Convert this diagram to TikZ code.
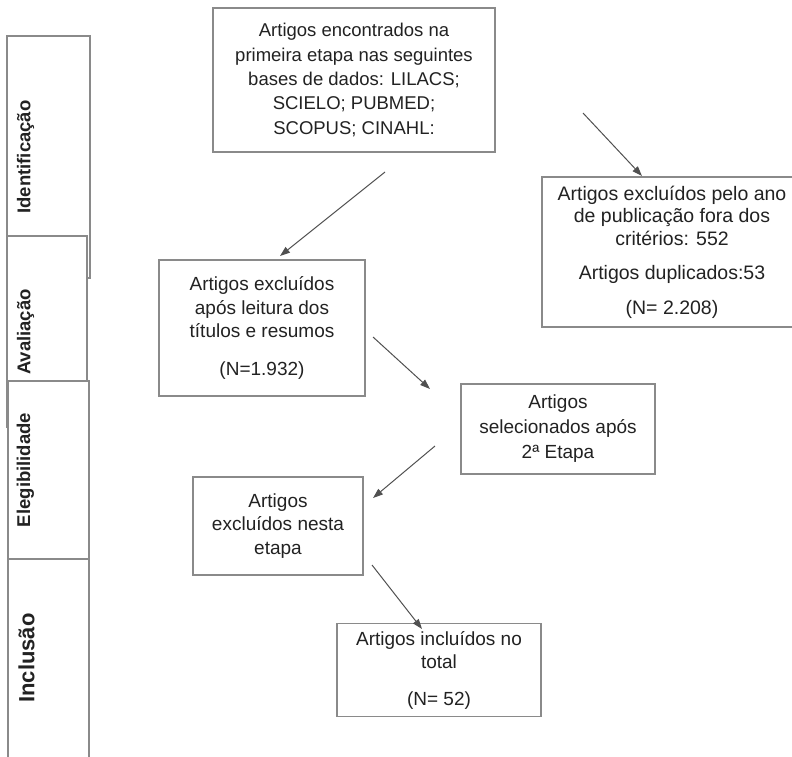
\documentclass[tikz,border=0pt]{standalone}
\usepackage{fontspec}
\setmainfont{Liberation Sans}
\usetikzlibrary{arrows.meta}
\definecolor{linegray}{HTML}{8A8A8A}
\definecolor{arrgray}{HTML}{505050}
\definecolor{txt}{HTML}{222222}
\begin{document}
\begin{tikzpicture}[x=1pt,y=-1pt,
  boxnode/.style={draw=linegray, line width=1.2pt, fill=white, text=txt, align=center, inner sep=0pt, font=\fontsize{19}{23.5}\selectfont},
  stagebox/.style={draw=linegray, line width=1.2pt, fill=white},
  stagelabel/.style={rotate=90, text=txt, font=\bfseries\fontsize{18.5}{22}\selectfont, inner sep=0pt},
  arr/.style={draw=arrgray, line width=1pt, -{Triangle[length=10pt,width=7pt]}}]
\useasboundingbox (0,0) rectangle (792,756);
\clip (0,0) rectangle (792,756);

% stage column
\path[stagebox] (7,36) rectangle (90,278);
\node[stagelabel] (lid) at (25.5,157) {Identificação};
\path[stagebox] (7,236) rectangle (87,427);
\node[stagelabel] (lav) at (25.5,332) {Avaliação};
\path[stagebox] (8,381) rectangle (89,559);
\node[stagelabel] (lel) at (25.5,470) {Elegibilidade};
\path[stagebox] (8,559) rectangle (89,770);
\node[stagelabel, font=\bfseries\fontsize{22}{26}\selectfont] (lin) at (26.5,658) {Inclusão};

% boxes
\node[boxnode, minimum width=282pt, minimum height=144pt, font=\fontsize{18.5}{24.3}\selectfont] (b1) at (354,80)
  {Artigos encontrados na\\primeira etapa nas seguintes\\bases de dados: LILACS;\\SCIELO; PUBMED;\\SCOPUS; CINAHL:};
\node[boxnode, minimum width=260pt, minimum height=150pt, font=\fontsize{19.5}{22.5}\selectfont] (b2) at (672,252)
  {Artigos excluídos pelo ano\\de publicação fora dos\\critérios: 552\\[12pt]Artigos duplicados:53\\[12pt](N= 2.208)};
\node[boxnode, minimum width=206pt, minimum height=136pt] (b3) at (262,328)
  {Artigos excluídos\\após leitura dos\\títulos e resumos\\[14pt](N=1.932)};
\node[boxnode, minimum width=194pt, minimum height=90pt, font=\fontsize{19}{25}\selectfont] (b4) at (558,429)
  {Artigos\\selecionados após\\2ª Etapa};
\node[boxnode, minimum width=170pt, minimum height=98pt] (b5) at (278,526)
  {Artigos\\excluídos nesta\\etapa};
\node[boxnode, minimum width=204pt, minimum height=93pt] (b6) at (439,670)
  {Artigos incluídos no\\total\\[13pt](N= 52)};

% connector end points
\coordinate (a0s) at (583,113);
\coordinate (a0e) at (642,176);
\coordinate (a1s) at (385,172);
\coordinate (a1e) at (280,256);
\coordinate (a2s) at (373,337);
\coordinate (a2e) at (430,389);
\coordinate (a3s) at (435,446);
\coordinate (a3e) at (373,498);
\coordinate (a4s) at (372,565);
\coordinate (a4e) at (422,629);

\draw[arr] (a0s) -- (a0e);
\draw[arr] (a1s) -- (a1e);
\draw[arr] (a2s) -- (a2e);
\draw[arr] (a3s) -- (a3e);
\draw[arr] (a4s) -- (a4e);
\end{tikzpicture}
\end{document}
